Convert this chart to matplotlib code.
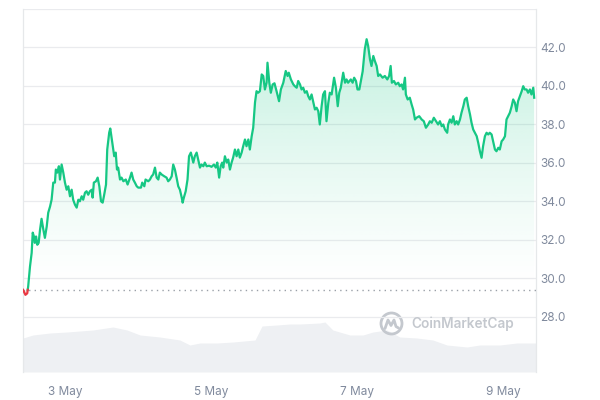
#!/usr/bin/env python
# -*- coding: utf-8 -*-

"""
Biểu đồ giá kiểu CoinMarketCap (7 ngày) với khối lượng phía dưới
"""

import numpy as np
import matplotlib
matplotlib.use('Agg')
import matplotlib.pyplot as plt
from matplotlib.patches import Circle
from matplotlib.lines import Line2D
from matplotlib.transforms import IdentityTransform

# giờ tính từ 00:00 ngày 2 May
hours = [
    10.2, 11.0, 11.6, 11.9, 12.5, 13.05, 13.4, 13.8, 14.1, 14.5,
    14.9, 15.35, 15.8, 16.3, 16.9, 17.4, 18.0, 18.5, 19.1, 19.6,
    20.15, 20.7, 21.0, 21.5, 22.0, 22.35, 22.9, 23.45, 24.0, 24.55,
    25.1, 25.65, 26.2, 26.7, 27.3, 27.85, 28.4, 28.9, 29.5, 30.0,
    30.6, 31.1, 31.65, 32.2, 32.8, 33.1, 33.5, 34.2, 34.75, 35.3,
    35.85, 36.4, 36.9, 37.5, 37.9, 38.55, 38.9, 39.55, 40.2, 40.7,
    41.1, 41.5, 42.1, 42.6, 43.2, 44.0, 44.6, 45.4, 45.9, 46.45,
    47.0, 47.6, 48.1, 49.0, 49.4, 50.1, 50.5, 51.4, 51.95, 52.5,
    53.0, 53.6, 54.15, 54.7, 55.2, 55.8, 56.65, 57.4, 57.95, 58.5,
    59.1, 59.6, 60.15, 60.7, 61.25, 61.8, 62.4, 62.7, 63.1, 63.7,
    64.3, 64.8, 65.4, 66.2, 66.7, 67.3, 67.8, 68.4, 68.9, 69.5,
    70.0, 70.6, 71.4, 72.2, 73.0, 73.6, 74.1, 74.7, 75.2, 75.7,
    76.05, 76.6, 77.2, 77.7, 78.25, 78.8, 79.3, 79.9, 80.45, 81.0,
    81.5, 82.1, 82.6, 83.2, 83.7, 84.3, 84.8, 85.4, 85.9, 86.5,
    87.0, 87.55, 88.1, 88.7, 89.2, 89.75, 90.3, 90.6, 91.2, 91.7,
    92.3, 92.9, 93.6, 94.4, 95.0, 95.8, 96.6, 97.2, 97.6, 98.3,
    99.1, 99.6, 100.2, 100.7, 101.3, 101.8, 102.35, 102.9, 103.5, 104.0,
    104.55, 105.1, 105.6, 106.2, 106.75, 107.3, 107.8, 108.4, 108.9, 109.5,
    110.0, 110.6, 111.1, 111.7, 112.5, 113.1, 113.7, 114.2, 114.7, 115.5,
    116.1, 116.6, 117.1, 118.0, 118.6, 119.1, 119.7, 120.2, 120.8, 121.3,
    121.9, 122.4, 122.6, 123.2, 123.7, 124.3, 124.8, 125.4, 125.9, 126.5,
    127.0, 127.6, 128.45, 129.2, 130.0, 130.6, 131.1, 131.5, 132.2, 132.8,
    133.6, 134.1, 134.7, 135.2, 135.8, 136.1, 136.7, 137.4, 138.0, 138.5,
    139.1, 139.6, 140.5, 141.3, 142.0, 142.7, 143.45, 144.0, 144.6, 145.3,
    146.0, 146.7, 147.3, 147.9, 148.4, 148.95, 149.7, 150.0, 150.6, 151.15,
    151.7, 152.2, 152.8, 153.3, 153.9, 154.4, 155.0, 155.5, 156.1, 156.6,
    157.2, 157.7, 158.25, 158.8, 159.4, 159.9, 160.45, 161.0, 161.5, 162.1,
    162.65, 163.2, 163.7, 164.3, 164.8, 165.4, 165.9, 166.5, 167.0, 167.6,
    168.1, 168.7, 169.2, 169.75, 170.3, 170.9, 171.4, 171.95, 172.5, 173.0,
    173.6, 174.2, 174.7, 175.2, 175.8, 176.3, 176.9, 177.4, 178.0, 178.3,
]

price = [
    29.41, 29.15, 29.23, 29.58, 30.62, 31.33, 32.38, 32.18, 31.85, 32.18,
    31.75, 31.85, 32.53, 33.10, 32.53, 32.11, 32.70, 33.42, 33.74, 34.09,
    34.98, 34.98, 35.66, 35.50, 35.83, 35.14, 35.92, 35.50, 34.98, 34.61,
    34.79, 34.27, 34.61, 34.09, 33.83, 33.68, 34.09, 34.01, 34.27, 34.09,
    34.46, 34.53, 34.35, 34.53, 34.61, 34.20, 34.98, 35.05, 35.24, 34.79,
    34.01, 33.94, 34.35, 34.88, 36.70, 37.58, 37.79, 37.06, 36.35, 36.54,
    35.66, 35.76, 35.14, 35.24, 35.05, 35.14, 34.88, 35.24, 35.50, 35.14,
    34.98, 34.79, 34.72, 34.72, 34.98, 34.79, 35.14, 35.05, 35.14, 35.31,
    35.40, 35.76, 35.24, 35.14, 35.50, 35.40, 35.31, 35.24, 35.05, 35.14,
    35.31, 35.92, 35.66, 35.24, 34.79, 34.61, 34.20, 33.94, 34.20, 34.53,
    35.14, 36.35, 36.54, 36.02, 36.35, 36.54, 36.18, 35.76, 35.92, 35.83,
    36.02, 35.83, 35.86, 35.80, 35.92, 35.76, 36.02, 35.24, 35.83, 36.02,
    35.76, 36.35, 36.02, 36.18, 35.66, 36.02, 36.28, 36.70, 36.35, 36.70,
    36.28, 36.54, 36.87, 37.22, 36.87, 37.22, 36.70, 37.39, 37.83, 39.15,
    39.73, 39.65, 39.73, 40.60, 40.52, 39.82, 40.17, 41.21, 40.17, 39.65,
    40.08, 40.14, 39.72, 39.21, 39.82, 40.17, 40.78, 40.52, 40.69, 40.34,
    40.08, 39.99, 39.91, 40.26, 40.08, 39.82, 39.91, 39.65, 39.73, 39.47,
    39.30, 39.56, 39.21, 38.78, 38.87, 38.69, 38.00, 38.95, 39.56, 39.73,
    38.17, 39.13, 39.65, 39.56, 40.43, 39.91, 38.95, 39.65, 39.91, 40.69,
    40.17, 40.34, 40.17, 40.34, 40.17, 40.43, 40.26, 39.82, 39.82, 40.26,
    40.76, 41.56, 41.91, 42.43, 42.08, 41.39, 41.04, 41.56, 41.30, 41.04,
    40.52, 40.60, 40.43, 40.52, 40.34, 40.52, 41.04, 40.17, 40.26, 40.08,
    40.17, 39.99, 40.08, 39.82, 40.43, 39.56, 39.30, 39.39, 39.04, 38.78,
    38.26, 38.35, 38.43, 38.26, 38.17, 37.83, 38.00, 38.17, 38.09, 38.35,
    38.17, 38.00, 38.17, 37.91, 38.00, 37.74, 37.57, 38.00, 38.26, 38.09,
    38.43, 38.00, 38.17, 38.00, 38.26, 38.61, 38.95, 39.30, 39.39, 38.95,
    38.52, 38.09, 37.74, 37.57, 37.39, 37.05, 36.61, 36.27, 36.87, 37.39,
    37.57, 37.48, 37.57, 37.48, 37.13, 36.70, 36.61, 36.79, 36.70, 37.13,
    37.22, 37.39, 38.26, 38.43, 38.61, 38.95, 39.30, 39.13, 38.69, 39.21,
    39.47, 39.73, 39.99, 39.82, 39.82, 39.65, 39.82, 39.56, 39.91, 39.39,
]

# khối lượng (đơn vị tương đối)
vol_hours = [10.2, 13.5, 19.1, 24.7, 33.2, 39.8, 44.4, 48.7, 55.2, 61.8,
             65.1, 68.4, 74.0, 79.3, 86.5, 88.8, 93.7, 98.0, 101.3, 107.8,
             109.5, 112.1, 117.7, 122.0, 125.3, 129.9, 134.1, 139.7, 145.0, 149.6,
             156.2, 160.4, 167.0, 172.6, 178.9]
volume = [3.4, 3.7, 3.9, 4.0, 4.2, 4.5, 4.2, 3.7, 3.5, 3.2,
          2.7, 2.9, 2.9, 3.0, 3.2, 4.6, 4.7, 4.8, 4.8, 4.9,
          5.0, 4.2, 3.7, 3.7, 4.0, 4.2, 3.5, 3.4, 3.2, 2.7,
          2.5, 2.7, 2.7, 2.9, 2.9]

tick_hours = [24, 72, 120, 168]
tick_labels = ['3 May', '5 May', '7 May', '9 May']
y_ticks = [28, 30, 32, 34, 36, 38, 40, 42]

GREEN = '#16c784'
RED = '#ea3943'
GRAY_TXT = '#808a9d'

x_min, x_max = 10.2, 178.9
y_min, y_max = 25.14, 44.0

t = np.array(hours)
p = np.array(price)
base = p[0]

# chèn điểm cắt với đường cơ sở để tô màu xanh / đỏ
tt, pp = [t[0]], [p[0]]
for i in range(1, len(t)):
    d0, d1 = p[i - 1] - base, p[i] - base
    if d0 * d1 < 0:
        tc = t[i - 1] + (t[i] - t[i - 1]) * d0 / (d0 - d1)
        tt.append(tc)
        pp.append(base)
    tt.append(t[i])
    pp.append(p[i])
tt = np.array(tt)
pp = np.array(pp)

fig = plt.figure(figsize=(6, 4), dpi=100)
ax = fig.add_axes([23 / 600, 1 - 372 / 400, 513 / 600, 363 / 400])

# volume trên trục phụ
vax = ax.twinx()
vax.fill_between(vol_hours, volume, 0, color='#eef0f3', lw=0)
vax.set_ylim(0, 36.3)
vax.set_yticks([])
for s in vax.spines.values():
    s.set_visible(False)
ax.set_zorder(vax.get_zorder() + 1)
ax.patch.set_visible(False)

# gradient dưới đường giá
grad = np.linspace(0, 1, 256).reshape(-1, 1)
rgba = np.zeros((256, 1, 4))
rgba[..., :3] = matplotlib.colors.to_rgb(GREEN)
rgba[..., 3] = 0.30 * grad[:, :1] ** 1.3
im = ax.imshow(rgba, extent=[x_min, x_max, base, y_max], origin='lower',
               aspect='auto', zorder=1, interpolation='bilinear')
poly = ax.fill_between(tt, pp, base, where=pp >= base, facecolor='none', edgecolor='none')
paths = poly.get_paths()
clip = matplotlib.path.Path.make_compound_path(*paths)
im.set_clip_path(clip, transform=ax.transData)
ax.fill_between(tt, pp, base, where=pp <= base, color=RED, alpha=0.12, lw=0)

green_line = np.where(pp >= base, pp, np.nan)
red_line = np.where(pp <= base, pp, np.nan)
ax.plot(tt, green_line, color=GREEN, lw=1.6, zorder=4, solid_joinstyle='round')
ax.plot(tt, red_line, color=RED, lw=1.6, zorder=4, solid_joinstyle='round')

# đường giá mở đầu
ax.axhline(base, color='#9aa0a8', lw=1.0, ls=(0, (1, 3)), zorder=3)

ax.set_xlim(x_min, x_max)
ax.set_ylim(y_min, y_max)

ax.set_yticks(y_ticks + [44])
ax.set_yticklabels([f'{v:.1f}' for v in y_ticks] + [''])
ax.yaxis.tick_right()
ax.grid(axis='y', color='#eaebee', lw=0.9)
ax.set_axisbelow(True)
ax.set_xticks(tick_hours)
ax.set_xticklabels(tick_labels)
ax.tick_params(axis='y', length=0, pad=3, labelsize=8.5, labelcolor=GRAY_TXT)
ax.tick_params(axis='x', length=0, pad=10, labelsize=8.5, labelcolor=GRAY_TXT)
for lab in ax.get_xticklabels() + ax.get_yticklabels():
    lab.set_family(['Inter', 'DejaVu Sans'])

for side in ['top', 'bottom']:
    ax.spines[side].set_visible(False)
for side in ['left', 'right']:
    ax.spines[side].set_color('#e6e8ea')
    ax.spines[side].set_linewidth(0.9)

# logo CoinMarketCap mờ
wm = '#c4c8ce'
cx, cy = 391.5, 400 - 323.5
fig.add_artist(Circle((cx, cy), 10.5, transform=IdentityTransform(),
                      fill=False, ec=wm, lw=2.0))
fig.add_artist(Line2D([cx - 6.5, cx - 3.5, cx - 0.5, cx + 2.5, cx + 4.5, cx + 7],
                      [cy - 5, cy + 3.5, cy - 2, cy + 3.5, cy - 3, cy - 4.5],
                      transform=IdentityTransform(), color=wm, lw=2.0,
                      solid_joinstyle='round', solid_capstyle='round'))
fig.text(411 / 600, 1 - 324 / 400, 'CoinMarketCap', color=wm, fontsize=9.8,
         family=['Inter', 'DejaVu Sans'], weight='semibold', va='center', ha='left')

fig.savefig('out.png', dpi=100)
